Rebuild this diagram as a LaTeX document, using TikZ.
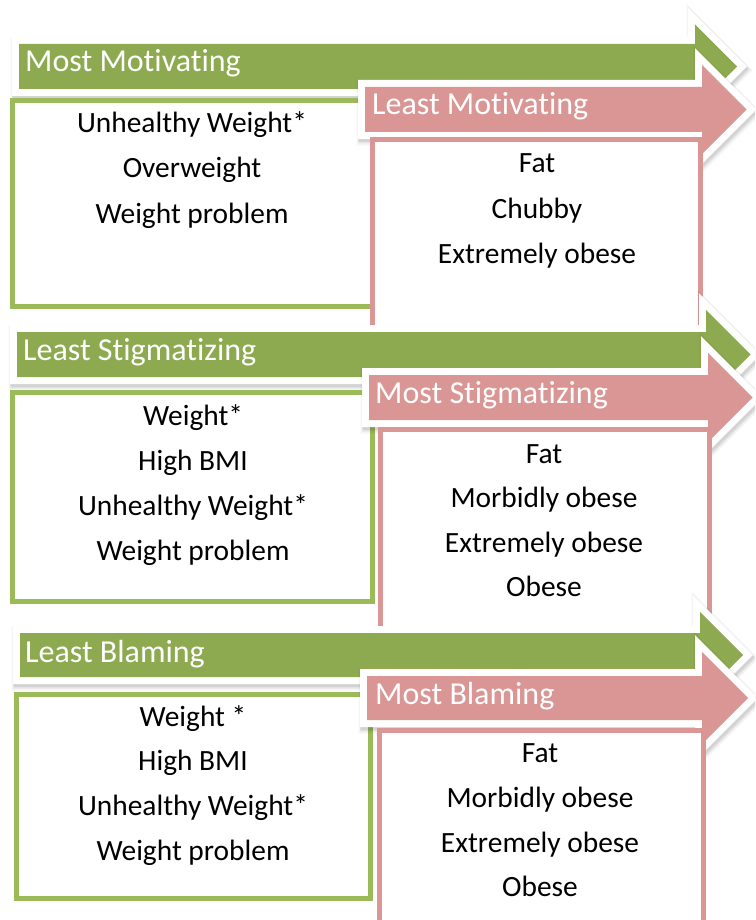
\documentclass[tikz,border=0pt]{standalone}
\usepackage{fontspec}
\setmainfont{Carlito}[Ligatures=NoCommon]
\definecolor{garrow}{HTML}{8DAA50}
\definecolor{gbox}{HTML}{9BBB59}
\definecolor{parrow}{HTML}{D99694}
\definecolor{pbox}{HTML}{D99694}
% #1 x start, #2 x where head starts, #3 y centre, #4 half bar height, #5 half head height, #6 colour
\newcommand\bigarrow[6]{%
  \pgfmathsetmacro\arya{#3-#4}\pgfmathsetmacro\aryb{#3+#4}%
  \pgfmathsetmacro\aryt{#3-#5}\pgfmathsetmacro\arybb{#3+#5}\pgfmathsetmacro\arxt{#2+#5}%
  \def\arp{(#1,\arya) -- (#2,\arya) -- (#2,\aryt) -- (\arxt,#3) -- (#2,\arybb) -- (#2,\aryb) -- (#1,\aryb) -- cycle}%
  \draw[line width=20pt, black, opacity=0.04, miter limit=10, shift={(1.5,3.5)}] \arp;
  \draw[line width=17pt, black, opacity=0.06, miter limit=10, shift={(1.5,3)}] \arp;
  \draw[line width=15pt, black, opacity=0.08, miter limit=10, shift={(1,2.5)}] \arp;
  \draw[line width=14pt, white, miter limit=10] \arp;
  \fill[#6] \arp;
}
\tikzset{
  title/.style={text=white, font=\fontsize{32}{38}\selectfont, anchor=base west, inner sep=0pt},
  item/.style={text=black, font=\fontsize{29.4}{35}\selectfont, anchor=base, inner sep=0pt},
  gframe/.style={draw=gbox, line width=5pt, fill=white},
  pframe/.style={draw=pbox, line width=5pt, fill=white},
}
\begin{document}
\begin{tikzpicture}[x=1pt,y=-1pt]
\useasboundingbox (0,0) rectangle (755,920);
\clip (0,0) rectangle (755,920);
\fill[white] (0,0) rectangle (755,920);

% ---------- Set 1 ----------
\bigarrow{19}{695}{66.5}{22.5}{42}{garrow}
\draw[gframe] (12,100.5) rectangle (372,306.5);
\bigarrow{365}{702}{109.5}{22.5}{44.5}{parrow}
\draw[pframe] (372.5,139.5) rectangle (700.5,345);
\node[title] (t1g) at (25,72) {Most Motivating};
\node[title] (t1p) at (372,115) {Least Motivating};
\node[item] (a1) at (192,133) {Unhealthy Weight*};
\node[item] (a2) at (192,178) {Overweight};
\node[item] (a3) at (192,223) {Weight problem};
\node[item] (b1) at (537,173) {Fat};
\node[item] (b2) at (537,218) {Chubby};
\node[item] (b3) at (537,263) {Extremely obese};

% ---------- Set 2 ----------
\bigarrow{17}{706}{354.5}{22.5}{44.5}{garrow}
\draw[gframe] (12.5,392.5) rectangle (372.5,601.5);
\bigarrow{369}{708}{397.5}{22.5}{44.5}{parrow}
\draw[pframe] (380.5,429.5) rectangle (709.5,645);
\node[title] (t2g) at (23,360) {Least Stigmatizing};
\node[title] (t2p) at (375,403) {Most Stigmatizing};
\node[item] (c1) at (193,425) {Weight*};
\node[item] (c2) at (193,470) {High BMI};
\node[item] (c3) at (193,515) {Unhealthy Weight*};
\node[item] (c4) at (193,560) {Weight problem};
\node[item] (d1) at (544,463) {Fat};
\node[item] (d2) at (544,507) {Morbidly obese};
\node[item] (d3) at (544,552) {Extremely obese};
\node[item] (d4) at (544,596) {Obese};

% ---------- Set 3 ----------
\bigarrow{20}{700}{655}{22}{43}{garrow}
\draw[gframe] (16.5,694.5) rectangle (370.5,898.5);
\bigarrow{367}{702}{698}{22}{46}{parrow}
\draw[pframe] (379.5,730.5) rectangle (703.5,935);
\node[title] (t3g) at (25,662) {Least Blaming};
\node[title] (t3p) at (375,704) {Most Blaming};
\node[item] (e1) at (193,726) {Weight *};
\node[item] (e2) at (193,770) {High BMI};
\node[item] (e3) at (193,815) {Unhealthy Weight*};
\node[item] (e4) at (193,860) {Weight problem};
\node[item] (f1) at (540,762) {Fat};
\node[item] (f2) at (540,807) {Morbidly obese};
\node[item] (f3) at (540,852) {Extremely obese};
\node[item] (f4) at (540,896) {Obese};
\end{tikzpicture}
\end{document}
